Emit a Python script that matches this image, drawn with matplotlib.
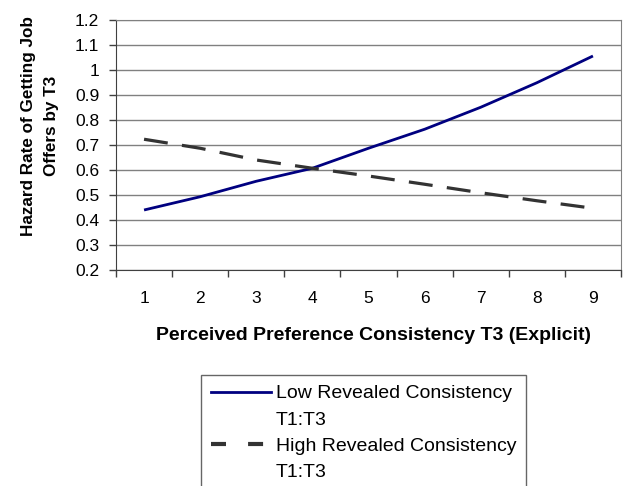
import matplotlib
matplotlib.use('Agg')
import matplotlib.pyplot as plt
from matplotlib.lines import Line2D

plt.rcParams['font.family'] = ['Liberation Sans', 'DejaVu Sans']

# Perceived consistency categories and hazard rates for the two groups
categories = [1, 2, 3, 4, 5, 6, 7, 8, 9]
low_revealed = [0.44, 0.493, 0.555, 0.607, 0.687, 0.763, 0.851, 0.949, 1.056]
high_revealed = [0.723, 0.687, 0.64, 0.607, 0.576, 0.543, 0.509, 0.477, 0.447]
y_ticks = [0.2, 0.3, 0.4, 0.5, 0.6, 0.7, 0.8, 0.9, 1.0, 1.1, 1.2]
y_tick_labels = ['0.2', '0.3', '0.4', '0.5', '0.6', '0.7', '0.8', '0.9', '1', '1.1', '1.2']

fig = plt.figure(figsize=(6.28, 4.86), dpi=100)
ax = fig.add_axes([116/628, 1 - 270/486, 505/628, 250/486])

# horizontal gridlines
for y in y_ticks:
    ax.axhline(y, color='#808080', linewidth=1.0, zorder=1)

ax.plot(categories, low_revealed, color='#000080', linewidth=2.0, zorder=3,
        solid_capstyle='butt')
ax.plot(categories, high_revealed, color='#333333', linewidth=2.3, zorder=3,
        linestyle=(0, (7.5, 4.5)))

ax.set_xlim(0.5, 9.5)
ax.set_ylim(0.2, 1.2)

# ticks sit between categories, labels at the category centres
ax.set_xticks([c - 0.5 for c in categories] + [9.5])
ax.set_xticklabels([])
ax.set_xticks(categories, minor=True)
ax.set_xticklabels([str(c) for c in categories], minor=True, fontsize=12.5)
ax.tick_params(axis='x', which='minor', length=0, pad=15)
ax.tick_params(axis='x', which='major', length=5, width=1, color='#404040')
ax.set_yticks(y_ticks)
ax.set_yticklabels(y_tick_labels, fontsize=12.5)
ax.tick_params(axis='y', length=5, width=1, color='#404040', pad=7)

for side in ['top', 'right']:
    ax.spines[side].set_color('#808080')
for side in ['left', 'bottom']:
    ax.spines[side].set_color('#404040')

fig.text(374/628, 1 - 336/486, 'Perceived Preference Consistency T3 (Explicit)',
         ha='center', va='center', fontsize=14, fontweight='bold')
fig.text(40/628, 1 - 126/486, 'Hazard Rate of Getting Job\nOffers by T3',
         ha='center', va='center', rotation=90, fontsize=12.3, fontweight='bold',
         multialignment='center', linespacing=1.6)

# legend: each series label wraps onto a second row
handles = [
    Line2D([], [], color='#000080', linewidth=2.0),
    Line2D([], [], color='none'),
    Line2D([], [], color='#333333', linewidth=3.0, linestyle=(0, (3.6, 5.3))),
    Line2D([], [], color='none'),
]
labels = ['Low Revealed Consistency', 'T1:T3', 'High Revealed Consistency', 'T1:T3']
leg = fig.legend(handles, labels, loc='upper left',
                 bbox_to_anchor=(201/628, 1 - 375/486), fontsize=14,
                 frameon=True, fancybox=False, handlelength=3.1,
                 handletextpad=0.25, labelspacing=0.45, borderpad=0.5,
                 borderaxespad=0)
leg.get_frame().set_edgecolor('#404040')
leg.get_frame().set_linewidth(1.0)

fig.savefig('out.png', dpi=100)
